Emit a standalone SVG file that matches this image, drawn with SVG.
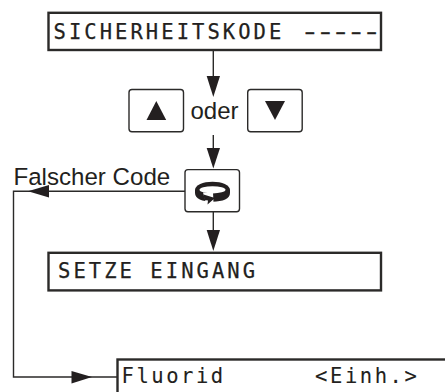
<svg xmlns="http://www.w3.org/2000/svg" width="445" height="392" viewBox="0 0 445 392">
<style>
.lcd{fill:#fff;stroke:#2b2a29;stroke-width:2.4}
.btn{fill:#fff;stroke:#2b2a29;stroke-width:1.4}
.mono{font-family:"DejaVu Sans Mono",monospace;font-size:20.5px;letter-spacing:3.05px;fill:#231f20;stroke:#231f20;stroke-width:.25;white-space:pre}
.sans{font-family:"Liberation Sans",Arial,sans-serif;fill:#231f20}
.line{fill:none;stroke:#2b2a29;stroke-width:1.4}
.head{fill:#231f20}
</style>
<rect width="445" height="392" fill="#fff"/>
<g id="connectors">
<path class="line" d="M213.3 50V78"/><path class="head" d="M206.7 76H220L213.3 97Z"/>
<path class="line" d="M213.3 135V150"/><path class="head" d="M206.7 148H220L213.3 168.5Z"/>
<path class="line" d="M213.3 212V232"/><path class="head" d="M206.7 230H220L213.3 251Z"/>
<path class="line" d="M185 191.3H13.5V377H117"/>
<path class="head" d="M49 185V197.6L28 191.3Z"/>
<path class="head" d="M71.5 371V383.5L92 377Z"/>
</g>
<g id="display-code"><rect class="lcd" x="48.5" y="12.8" width="332.5" height="37.2"/><text class="mono" x="53.5" y="39.3">SICHERHEITSKODE</text><text class="mono" transform="translate(300 0) scale(1.6 1)" style="letter-spacing:-2.71px" x="0" y="38.6">-----</text></g>
<g id="button-up"><rect class="btn" x="129" y="89.5" width="54.5" height="42.2" rx="3"/><path class="head" d="M156.3 101L166.2 120H146.5Z"/></g>
<g id="label-oder"><text class="sans" x="190.5" y="119.3" font-size="24">oder</text></g>
<g id="button-down"><rect class="btn" x="247.7" y="89.5" width="54.5" height="42.2" rx="3"/><path class="head" d="M265 101H285L275 120Z"/></g>
<g id="label-falscher-code"><text class="sans" x="13.5" y="185" font-size="24.1">Falscher Code</text></g>
<g id="button-enter"><rect class="btn" x="185" y="169.6" width="54.5" height="42.2" rx="3"/>
<path class="head" d="M195 190C195 185 203 181.7 212.5 181.7C222 181.7 230 185 230 190V193C230 198.5 223 201.7 212.5 201.7C202 201.7 195 198.5 195 193Z"/>
<ellipse cx="212.5" cy="189.8" rx="13" ry="3.6" fill="#fff"/>
<path d="M203 192.5L213 192.5L213.5 203L206 203Z" fill="#fff"/>
<path class="head" d="M203.5 194.5L215 198L207.5 204.5L208 200.5L204.5 200Z"/></g>
<g id="display-eingang"><rect class="lcd" x="48.5" y="252.8" width="332.5" height="37.6"/><text class="mono" x="58" y="278">SETZE EINGANG</text></g>
<g id="display-fluorid"><rect class="lcd" x="117.5" y="359.5" width="340" height="50"/><text class="mono" x="121.5" y="382.7" style="letter-spacing:2.55px;stroke-width:.1">Fluorid      &lt;Einh.&gt;</text></g>
</svg>
